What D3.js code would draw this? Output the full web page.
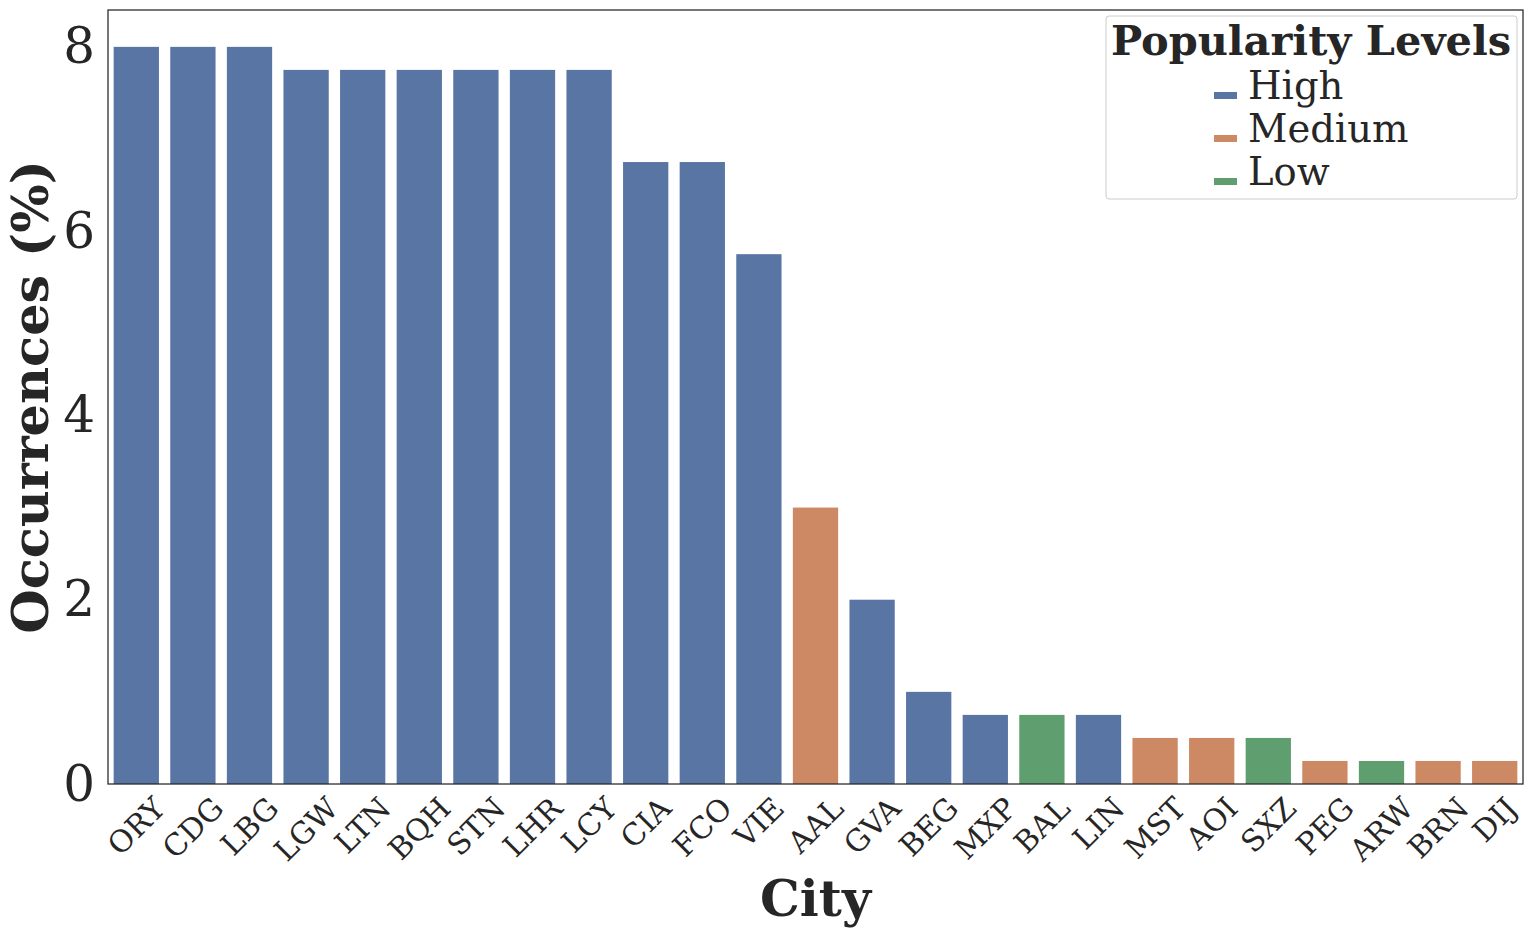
<!DOCTYPE html>
<html>
<head>
<meta charset="utf-8">
<script src="https://cdn.jsdelivr.net/npm/d3@7"></script>
<style>
  body { margin: 0; background: #fff; }
  text { font-family: "DejaVu Serif", serif; fill: #262626; }
</style>
</head>
<body>
<svg id="chart"></svg>
<script>
let w = 1532;
let h = 936;

const cities = ['ORY','CDG','LBG','LGW','LTN','BQH','STN','LHR','LCY','CIA','FCO','VIE','AAL','GVA','BEG','MXP','BAL','LIN','MST','AOI','SXZ','PEG','ARW','BRN','DIJ'];
const occurrences = [8, 8, 8, 7.75, 7.75, 7.75, 7.75, 7.75, 7.75, 6.75, 6.75, 5.75, 3, 2, 1, 0.75, 0.75, 0.75, 0.5, 0.5, 0.5, 0.25, 0.25, 0.25, 0.25];
const levels = ['High','High','High','High','High','High','High','High','High','High','High','High','Medium','High','High','High','Low','High','Medium','Medium','Low','Medium','Low','Medium','Medium'];
const levelNames = ['High', 'Medium', 'Low'];
const levelColors = ['#5875a4', '#cc8963', '#5f9e6e'];
const yTicks = [0, 2, 4, 6, 8];

const margin = {left: 108, right: 9, top: 10, bottom: 152};

const svg = d3.select('#chart')
  .attr('width', w)
  .attr('height', h)

const x = d3.scaleBand()
  .domain(cities)
  .range([margin.left, w - margin.right])
  .paddingInner(0.2)
  .paddingOuter(0.1)

const y = d3.scaleLinear()
  .domain([0, 8.4])
  .range([h - margin.bottom, margin.top])

const color = d3.scaleOrdinal()
  .domain(levelNames)
  .range(levelColors)

const data = cities.map((c, i) => ({city: c, value: occurrences[i], level: levels[i]}))

// bars
svg.append('g')
  .selectAll('rect')
  .data(data)
  .enter()
  .append('rect')
  .attr('x', d => x(d.city))
  .attr('width', x.bandwidth())
  .attr('y', d => y(d.value))
  .attr('height', d => y(0) - y(d.value))
  .attr('fill', d => color(d.level))

// frame
svg.append('rect')
  .attr('x', margin.left)
  .attr('y', margin.top)
  .attr('width', w - margin.right - margin.left)
  .attr('height', y(0) - margin.top)
  .attr('fill', 'none')
  .attr('stroke', '#262626')
  .attr('stroke-width', 1.25)

// y ticks
const yAxis = d3.axisLeft(y)
  .tickValues(yTicks)
  .tickSize(0)
  .tickPadding(13)
  .tickFormat(d3.format('d'))

svg.append('g')
  .attr('transform', `translate(${margin.left},0)`)
  .call(yAxis)
  .call(g => g.select('.domain').remove())
  .selectAll('text')
  .style('font-family', '"DejaVu Serif", serif')
  .style('font-size', '50px')
  .attr('fill', '#262626')

// x tick labels, rotated 45, bbox centred on the band
const fs = 30;
const xg = svg.append('g')
xg.selectAll('text')
  .data(cities)
  .enter()
  .append('text')
  .text(d => d)
  .style('font-size', fs + 'px')
  .attr('text-anchor', 'middle')
  .attr('dominant-baseline', 'central')
  .each(function(d) {
    const len = this.getComputedTextLength();
    const half = (len + fs * 0.73) / (2 * Math.SQRT2);
    const cx = x(d) + x.bandwidth() / 2;
    const cy = y(0) + 11 + half;
    d3.select(this)
      .attr('transform', `translate(${cx},${cy}) rotate(-45)`)
  })

// axis titles
svg.append('text')
  .attr('x', (margin.left + w - margin.right) / 2)
  .attr('y', 916)
  .attr('text-anchor', 'middle')
  .style('font-size', '50px')
  .style('font-weight', 'bold')
  .text('City')

svg.append('text')
  .attr('transform', `translate(48,${(margin.top + y(0)) / 2}) rotate(-90)`)
  .attr('text-anchor', 'middle')
  .style('font-size', '51px')
  .style('font-weight', 'bold')
  .text('Occurrences (%)')

// legend
const legend = svg.append('g')

legend.append('rect')
  .attr('x', 1106)
  .attr('y', 16)
  .attr('width', 411)
  .attr('height', 183)
  .attr('rx', 3)
  .attr('fill', '#fff')
  .attr('fill-opacity', 0.8)
  .attr('stroke', '#cccccc')
  .attr('stroke-width', 1)

legend.append('text')
  .attr('x', 1311)
  .attr('y', 55)
  .attr('text-anchor', 'middle')
  .style('font-size', '41.5px')
  .style('font-weight', 'bold')
  .text('Popularity Levels')

legend.selectAll('.item')
  .data(levelNames)
  .enter()
  .append('g')
  .attr('class', 'item')
  .attr('transform', (d, i) => `translate(0,${99 + i * 43})`)
  .each(function(d) {
    const g = d3.select(this)
    g.append('rect')
      .attr('x', 1214)
      .attr('y', -7)
      .attr('width', 23)
      .attr('height', 7)
      .attr('fill', color(d))
    g.append('text')
      .attr('x', 1248)
      .attr('y', 0)
      .style('font-size', '38.5px')
      .text(d)
  })
</script>
</body>
</html>
